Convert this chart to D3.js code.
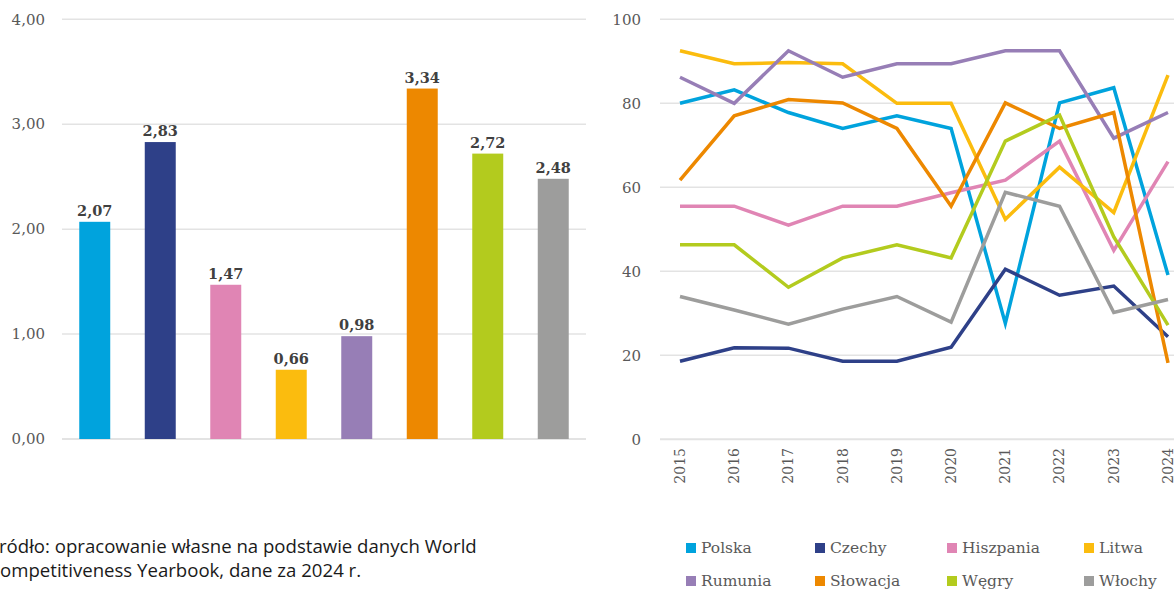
<!DOCTYPE html>
<html>
<head>
<meta charset="utf-8">
<script src="https://cdn.jsdelivr.net/npm/d3@7"></script>
<style>
  html, body { margin: 0; padding: 0; background: #fff; }
  svg { display: block; }
</style>
</head>
<body>
<svg id="chart" width="1174" height="592"></svg>
<script>
// Countries (shared by both panels and the legend)
const countries = ["Polska", "Czechy", "Hiszpania", "Litwa", "Rumunia", "Słowacja", "Węgry", "Włochy"];
const colors = ["#00A3DD", "#2E4088", "#E085B4", "#FBBC0E", "#977EB6", "#ED8800", "#B3CB1E", "#9D9D9C"];

// Left panel: 2024 values
const barValues = [2.07, 2.83, 1.47, 0.66, 0.98, 3.34, 2.72, 2.48];
const barTicks = [0, 1, 2, 3, 4];

// Right panel: yearly series
const years = [2015, 2016, 2017, 2018, 2019, 2020, 2021, 2022, 2023, 2024];
const polska    = [80.0, 83.2, 77.8, 74.0, 77.0, 74.0, 27.6, 80.1, 83.7, 39.1];
const czechy    = [18.6, 21.8, 21.7, 18.6, 18.6, 21.9, 40.5, 34.3, 36.5, 24.4];
const hiszpania = [55.5, 55.5, 51.0, 55.5, 55.5, 58.7, 61.7, 71.0, 45.0, 66.1];
const litwa     = [92.5, 89.4, 89.7, 89.4, 80.0, 80.0, 52.4, 64.8, 54.0, 86.7];
const rumunia   = [86.2, 80.0, 92.5, 86.2, 89.4, 89.4, 92.5, 92.5, 71.7, 77.8];
const slowacja  = [61.7, 77.0, 80.9, 80.1, 74.0, 55.5, 80.1, 74.0, 77.8, 18.2];
const wegry     = [46.3, 46.3, 36.2, 43.2, 46.3, 43.2, 71.0, 77.2, 48.2, 27.2];
const wlochy    = [34.0, 30.8, 27.4, 31.0, 34.0, 27.9, 58.8, 55.5, 30.2, 33.3];
const lineTicks = [0, 20, 40, 60, 80, 100];

const series = [polska, czechy, hiszpania, litwa, rumunia, slowacja, wegry, wlochy];

const sourceLines = [
  "Źródło: opracowanie własne na podstawie danych World",
  "Competitiveness Yearbook, dane za 2024 r."
];

const svg = d3.select("#chart");
const serif = "'DejaVu Serif', serif";
const axisColor = "#595959";
const gridColor = "#e3e3e3";
const fmt = v => v.toFixed(2).replace(".", ",");

// ---------- Left panel: bar chart ----------
const bx = d3.scaleBand().domain(countries).range([62, 586])
  .paddingInner(0.527).paddingOuter(0.2635);
const by = d3.scaleLinear().domain([0, 4]).range([439, 19.3]);

const left = svg.append("g");
left.selectAll("line.grid").data(barTicks).join("line")
  .attr("x1", 62).attr("x2", 586)
  .attr("y1", d => by(d)).attr("y2", d => by(d))
  .attr("stroke", gridColor)
  .attr("stroke-width", d => d === 0 ? 2 : 1.5);

left.selectAll("text.tick").data(barTicks).join("text")
  .attr("x", 45).attr("y", d => by(d)).attr("dy", "0.35em")
  .attr("text-anchor", "end")
  .attr("font-family", serif).attr("font-size", 15)
  .attr("fill", axisColor)
  .text(d => fmt(d));

left.selectAll("rect").data(barValues).join("rect")
  .attr("x", (d, i) => bx(countries[i]))
  .attr("width", bx.bandwidth())
  .attr("y", d => by(d))
  .attr("height", d => by(0) - by(d))
  .attr("fill", (d, i) => colors[i]);

left.selectAll("text.val").data(barValues).join("text")
  .attr("x", (d, i) => bx(countries[i]) + bx.bandwidth() / 2)
  .attr("y", d => by(d) - 6)
  .attr("text-anchor", "middle")
  .attr("font-family", serif).attr("font-size", 14.5).attr("font-weight", "bold")
  .attr("fill", "#404040")
  .text(d => fmt(d));

// ---------- Right panel: line chart ----------
const lx = d3.scalePoint().domain(years).range([680, 1168]);
const ly = d3.scaleLinear().domain([0, 100]).range([439.3, 19.3]);

const right = svg.append("g");
right.selectAll("line.grid").data(lineTicks).join("line")
  .attr("x1", 660).attr("x2", 1174)
  .attr("y1", d => ly(d)).attr("y2", d => ly(d))
  .attr("stroke", gridColor)
  .attr("stroke-width", d => d === 0 ? 2 : 1.5);

right.selectAll("text.tick").data(lineTicks).join("text")
  .attr("x", 641).attr("y", d => ly(d)).attr("dy", "0.35em")
  .attr("text-anchor", "end")
  .attr("font-family", serif).attr("font-size", 15)
  .attr("fill", axisColor)
  .text(d => d);

right.selectAll("g.year").data(years).join("g")
  .attr("transform", d => `translate(${lx(d)},448) rotate(-90)`)
  .append("text")
  .attr("text-anchor", "end").attr("dy", "0.35em")
  .attr("font-family", serif).attr("font-size", 14)
  .attr("fill", axisColor)
  .text(d => d);

const line = d3.line().x((d, i) => lx(years[i])).y(d => ly(d));
right.selectAll("path.series").data(series).join("path")
  .attr("d", line)
  .attr("fill", "none")
  .attr("stroke", (d, i) => colors[i])
  .attr("stroke-width", 3.5)
  .attr("stroke-linejoin", "miter")
  .attr("stroke-linecap", "butt");

// ---------- Legend ----------
const legendCols = [686, 815, 947, 1084];
const legendRows = [548, 581];
const legend = svg.append("g");
countries.forEach((c, i) => {
  const x = legendCols[i % 4];
  const y = legendRows[Math.floor(i / 4)];
  legend.append("rect")
    .attr("x", x).attr("y", y - 5).attr("width", 10).attr("height", 10)
    .attr("fill", colors[i]);
  legend.append("text")
    .attr("x", x + 15).attr("y", y).attr("dy", "0.35em")
    .attr("font-family", serif).attr("font-size", 15.5)
    .attr("fill", axisColor)
    .text(c);
});

// ---------- Source note ----------
const srcFont = "'Open Sans', sans-serif";
const srcSize = 18.6;
const src = svg.append("g");
const probe = src.append("text")
  .attr("font-family", srcFont).attr("font-size", srcSize)
  .text("Ź");
const shift = probe.node().getComputedTextLength();
probe.remove();
sourceLines.forEach((t, i) => {
  src.append("text")
    .attr("x", -shift - 1).attr("y", 553 + i * 24)
    .attr("font-family", srcFont).attr("font-size", srcSize)
    .attr("fill", "#1a1a1a")
    .text(t);
});
</script>
</body>
</html>
